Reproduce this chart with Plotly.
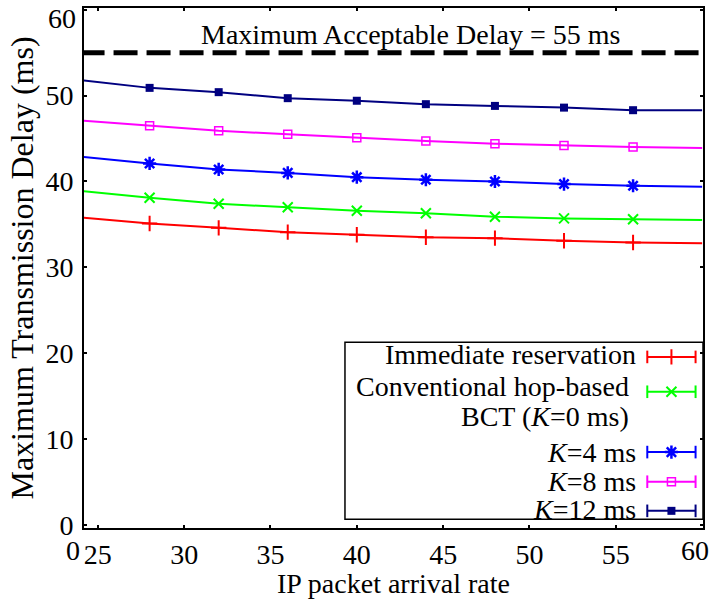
import plotly.graph_objects as go

# IP packet arrival rate (x) and maximum transmission delay in ms for each scheme
rate = [24, 28, 32, 36, 40, 44, 48, 52, 56, 60]
immediate = [35.8, 35.1, 34.6, 34.1, 33.8, 33.5, 33.4, 33.1, 32.9, 32.8]
conventional = [38.9, 38.1, 37.4, 37.0, 36.6, 36.3, 35.9, 35.7, 35.6, 35.5]
k4 = [42.9, 42.1, 41.4, 41.0, 40.5, 40.2, 40.0, 39.7, 39.5, 39.4]
k8 = [47.1, 46.5, 45.9, 45.5, 45.1, 44.7, 44.4, 44.2, 44.0, 43.9]
k12 = [51.8, 50.9, 50.4, 49.7, 49.4, 49.0, 48.8, 48.6, 48.3, 48.3]
max_delay = 55

x_ticks = [25, 30, 35, 40, 45, 50, 55, 60]
x_labels = ["25", "30", "35", "40", "45", "50", "55", ""]
y_ticks = [0, 10, 20, 30, 40, 50, 60]
y_labels = ["0", "10", "20", "30", "40", "50", ""]

FONT = "Liberation Serif"
FS = 28


def mk(symbol, size, color, width):
    return dict(symbol=symbol, size=size, color=color, line=dict(width=width, color=color))


series = [
    (["Immediate reservation"], immediate, "#FF0000", mk("cross-thin-open", 11, "#FF0000", 2)),
    (["Conventional hop-based", "BCT (<i>K</i>=0 ms)"], conventional, "#00FF00", mk("x-thin-open", 10, "#00FF00", 2)),
    (["<i>K</i>=4 ms"], k4, "#0000FF", mk("asterisk-open", 11, "#0000FF", 2.5)),
    (["<i>K</i>=8 ms"], k8, "#FF00FF", mk("square-open", 8, "#FF00FF", 1.5)),
    (["<i>K</i>=12 ms"], k12, "#000080", mk("square", 8, "#000080", 0)),
]

fig = go.Figure()

# Acceptable-delay threshold
fig.add_trace(go.Scatter(x=[rate[0], rate[-1]], y=[max_delay, max_delay], mode="lines",
                         line=dict(color="black", width=5, dash="24px,9px"),
                         showlegend=False, hoverinfo="skip"))

for names, vals, color, marker in series:
    fig.add_trace(go.Scatter(x=rate, y=vals, mode="lines", line=dict(color=color, width=2),
                             showlegend=False, hoverinfo="skip"))
    fig.add_trace(go.Scatter(x=rate[1:-1], y=vals[1:-1], mode="markers", marker=marker,
                             showlegend=False, name=names[0]))

# Hand-built legend: right-aligned labels with error-bar style samples on the right
sample_rows = [0.329, 0.262, 0.146, 0.089, 0.033]
label_rows = [[0.334], [0.272, 0.214], [0.146], [0.089], [0.036]]
label_right = [0.893, 0.882, 0.893, 0.893, 0.893]
sx0, sx1, smid = 0.910, 0.988, 0.949
for (names, vals, color, marker), ys, yls, xr in zip(series, sample_rows, label_rows, label_right):
    fig.add_trace(go.Scatter(x=[sx0, sx1], y=[ys, ys], xaxis="x2", yaxis="y2", mode="lines+markers",
                             line=dict(color=color, width=2),
                             marker=mk("line-ns-open", 9, color, 2),
                             showlegend=False, hoverinfo="skip"))
    fig.add_trace(go.Scatter(x=[smid], y=[ys], xaxis="x2", yaxis="y2", mode="markers", marker=marker,
                             showlegend=False, hoverinfo="skip"))
    for name, yl in zip(names, yls):
        fig.add_annotation(x=xr, y=yl, xref="paper", yref="paper", text=name, showarrow=False,
                           xanchor="right", yanchor="middle", align="right", borderpad=0,
                           font=dict(family=FONT, size=FS, color="black"))

fig.add_shape(type="rect", xref="paper", yref="paper", x0=0.4216, x1=1.0, y0=0.017, y1=0.357,
              line=dict(color="black", width=1.5), fillcolor="rgba(0,0,0,0)")

fig.add_annotation(x=0.527, y=0.949, xref="paper", yref="paper",
                   text="Maximum Acceptable Delay = 55 ms", showarrow=False,
                   xanchor="center", yanchor="middle",
                   font=dict(family=FONT, size=FS, color="black"))

# Stray "0" printed next to the first x tick label
fig.add_annotation(x=0, y=0, xref="paper", yref="paper", text="0", showarrow=False,
                   xanchor="right", yanchor="top", xshift=-2, yshift=-5,
                   font=dict(family=FONT, size=FS, color="black"))

# End labels nudged inward so they stay inside the figure
fig.add_annotation(x=60, y=0, xref="x", yref="paper", text="60", showarrow=False,
                   xanchor="center", yanchor="top", xshift=-7, yshift=-5,
                   font=dict(family=FONT, size=FS, color="black"))
fig.add_annotation(x=0, y=60, xref="paper", yref="y", text="60", showarrow=False,
                   xanchor="right", yanchor="middle", xshift=-6, yshift=-9,
                   font=dict(family=FONT, size=FS, color="black"))

axis_common = dict(showgrid=False, zeroline=False, showline=True, linecolor="black", linewidth=2,
                   mirror="ticks", ticks="inside", ticklen=3, tickwidth=1.5, tickcolor="black",
                   tickfont=dict(family=FONT, size=FS, color="black"))

fig.update_layout(
    width=714, height=599,
    margin=dict(l=84, r=11, t=6, b=66),
    plot_bgcolor="white", paper_bgcolor="white",
    font=dict(family=FONT, size=FS, color="black"),
    xaxis=dict(range=[24.2, 60.05], tickvals=x_ticks, ticktext=x_labels,
               title=dict(text="IP packet arrival rate", font=dict(family=FONT, size=FS), standoff=4),
               **axis_common),
    yaxis=dict(range=[-0.35, 60.2], tickvals=y_ticks, ticktext=y_labels,
               ticklabelstandoff=3,
               title=dict(text="Maximum Transmission Delay (ms)", font=dict(family=FONT, size=32), standoff=2),
               **axis_common),
    xaxis2=dict(domain=[0, 1], range=[0, 1], overlaying="x", visible=False, fixedrange=True),
    yaxis2=dict(domain=[0, 1], range=[0, 1], overlaying="y", visible=False, fixedrange=True),
    showlegend=False,
)

fig.write_html("out.html")
